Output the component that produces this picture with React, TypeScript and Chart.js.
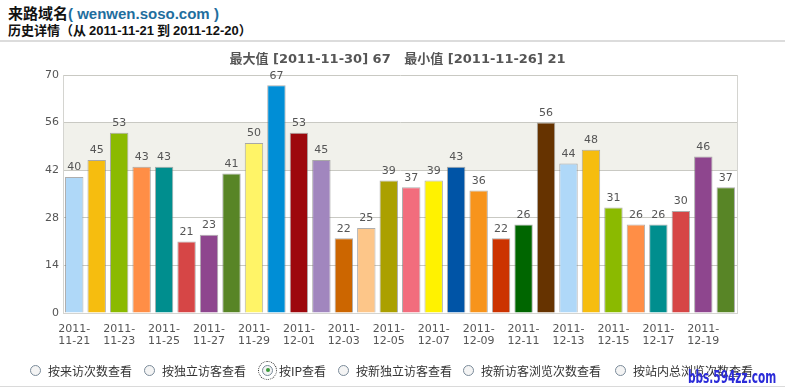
import React, { useEffect, useRef } from "react";
import { Chart, registerables } from "chart.js";

Chart.register(...registerables);

const dates: string[] = [
  "2011-11-21", "2011-11-22", "2011-11-23", "2011-11-24", "2011-11-25", "2011-11-26",
  "2011-11-27", "2011-11-28", "2011-11-29", "2011-11-30", "2011-12-01", "2011-12-02",
  "2011-12-03", "2011-12-04", "2011-12-05", "2011-12-06", "2011-12-07", "2011-12-08",
  "2011-12-09", "2011-12-10", "2011-12-11", "2011-12-12", "2011-12-13", "2011-12-14",
  "2011-12-15", "2011-12-16", "2011-12-17", "2011-12-18", "2011-12-19", "2011-12-20",
];
const ipCounts: number[] = [
  40, 45, 53, 43, 43, 21, 23, 41, 50, 67, 53, 45, 22, 25, 39,
  37, 39, 43, 36, 22, 26, 56, 44, 48, 31, 26, 26, 30, 46, 37,
];
const palette: string[] = [
  "#AFD8F8", "#F6BD0F", "#8BBA00", "#FF8E46", "#008E8E", "#D64646", "#8E468E",
  "#588526", "#FFF467", "#008ED6", "#9D080D", "#A186BE", "#CC6600", "#FDC689",
  "#ABA000", "#F26D7D", "#FFF200", "#0054A6", "#F7941C", "#CC3300", "#006600",
  "#663300",
];
const yTicks: number[] = [0, 14, 28, 42, 56, 70];
const radioOptions: string[] = [
  "按来访次数查看", "按独立访客查看", "按IP查看", "按新独立访客查看", "按新访客浏览次数查看", "按站内总浏览次数查看",
];
const radioX: number[] = [30, 144, 262, 338, 463, 615];
const selectedRadio = 2;

const FONT = "'DejaVu Sans', Verdana, sans-serif";
const CJK = "'Noto Sans CJK SC', 'DejaVu Sans', sans-serif";

export default function App() {
  const ref = useRef<HTMLCanvasElement | null>(null);

  useEffect(() => {
    if (!ref.current) return;
    const bandPlugin = {
      id: "band",
      beforeDraw(chart: any) {
        const { ctx, chartArea, scales } = chart;
        const y = scales.y;
        ctx.save();
        ctx.fillStyle = "#F1F1EB";
        const top = y.getPixelForValue(56);
        const bot = y.getPixelForValue(42);
        ctx.fillRect(chartArea.left, top, chartArea.right - chartArea.left, bot - top);
        ctx.restore();
      },
      afterDatasetsDraw(chart: any) {
        const { ctx, chartArea } = chart;
        ctx.save();
        ctx.strokeStyle = "#D4D4D0";
        ctx.lineWidth = 1;
        ctx.beginPath();
        ctx.moveTo(Math.round(chartArea.right) + 0.5, chartArea.top);
        ctx.lineTo(Math.round(chartArea.right) + 0.5, chartArea.bottom);
        ctx.stroke();
        const meta = chart.getDatasetMeta(0);
        ctx.fillStyle = "#555";
        ctx.font = "11px " + FONT;
        ctx.textAlign = "center";
        ctx.textBaseline = "bottom";
        meta.data.forEach((bar: any, i: number) => {
          ctx.fillText(String(chart.data.datasets[0].data[i]), bar.x, bar.y - 4);
        });
        ctx.restore();
      },
    };

    const chart = new Chart(ref.current, {
      type: "bar",
      data: {
        labels: dates,
        datasets: [
          {
            data: ipCounts,
            backgroundColor: ipCounts.map((_, i) => palette[i % palette.length]),
            borderColor: "rgba(120,120,120,0.6)",
            borderWidth: 1,
            barPercentage: 0.82,
            categoryPercentage: 1,
          },
        ],
      },
      options: {
        animation: false,
        responsive: false,
        layout: { padding: { top: 75, bottom: 36, left: 0, right: 48 } },
        plugins: { legend: { display: false }, tooltip: { enabled: false }, title: { display: false } },
        scales: {
          x: {
            grid: { display: false },
            border: { color: "#D4D4D0" },
            ticks: {
              autoSkip: false,
              maxRotation: 0,
              minRotation: 0,
              padding: 2,
              color: "#555",
              font: { family: FONT, size: 11, lineHeight: 1.1 },
              callback: (_v: any, i: number) => (i % 2 === 0 ? ["2011-", dates[i].slice(5)] : ""),
            },
            afterFit: (s: any) => { s.height = 40; },
          },
          y: {
            min: 0,
            max: 70,
            afterBuildTicks: (s: any) => { s.ticks = yTicks.map((v) => ({ value: v })); },
            grid: { color: "#C9C9C3", drawTicks: false },
            border: { display: true, color: "#D4D4D0" },
            ticks: { color: "#555", padding: 4, font: { family: FONT, size: 11 } },
            afterFit: (s: any) => { s.width = 63; },
          },
        },
      },
      plugins: [bandPlugin],
    });
    return () => chart.destroy();
  }, []);

  return (
    <div style={{ position: "fixed", left: 0, top: 0, width: 785, height: 389, background: "#fff", overflow: "hidden" }}>
      <div style={{ position: "absolute", left: 8, top: 4, fontFamily: CJK, fontWeight: "bold", fontSize: 15, lineHeight: "18px", color: "#111", whiteSpace: "nowrap" }}>
        来路域名<span style={{ color: "#1F6E9E", fontFamily: "'Liberation Sans', Arial, sans-serif" }}>( wenwen.soso.com )</span>
      </div>
      <div style={{ position: "absolute", left: 8, top: 21, fontFamily: CJK, fontWeight: "bold", fontSize: 13, lineHeight: "17px", color: "#111", whiteSpace: "nowrap" }}>
        历史详情（从 <span style={{ fontFamily: "'Liberation Sans', Arial, sans-serif" }}>2011-11-21</span> 到 <span style={{ fontFamily: "'Liberation Sans', Arial, sans-serif" }}>2011-12-20</span>）
      </div>
      <div style={{ position: "absolute", left: 0, top: 40, width: 785, height: 2, background: "#DCDCDC" }} />
      <canvas ref={ref} width={785} height={389} style={{ position: "absolute", left: 0, top: 0, width: 785, height: 389 }} />
      <div style={{ position: "absolute", left: 0, width: 795, top: 48, textAlign: "center", fontFamily: FONT + ", 'Noto Sans CJK SC'", fontWeight: "bold", fontSize: 13, color: "#555", whiteSpace: "pre" }}>
        最大值 [2011-11-30] 67   最小值 [2011-11-26] 21
      </div>
      {radioOptions.map((label, i) => (
        <div key={label} style={{ position: "absolute", left: radioX[i], top: 363, height: 14, display: "flex", alignItems: "center", whiteSpace: "nowrap" }}>
          <span style={{ position: "relative", width: 11, height: 11, borderRadius: "50%", border: "1px solid #7A8A99", background: "#F4F4F4", boxSizing: "border-box", outline: i === selectedRadio ? "1px dotted #333" : "none", outlineOffset: 3 }}>
            {i === selectedRadio && (
              <span style={{ position: "absolute", left: 2.5, top: 2.5, width: 4, height: 4, borderRadius: "50%", background: "#3C9A3C" }} />
            )}
          </span>
          <span style={{ marginLeft: i === selectedRadio ? 6 : 7, fontFamily: CJK, fontSize: 12, color: "#333" }}>{label}</span>
        </div>
      ))}
      <div style={{ position: "absolute", left: 0, top: 386, width: 785, height: 1, background: "#DADADA" }} />
      <div style={{ position: "absolute", left: 688, top: 367, fontFamily: "'DejaVu Sans', sans-serif", fontWeight: "bold", fontSize: 17, lineHeight: "20px", color: "#2B2BD8", transform: "scaleX(0.62)", transformOrigin: "left top", whiteSpace: "nowrap" }}>
        bbs.594zz.com
      </div>
    </div>
  );
}
